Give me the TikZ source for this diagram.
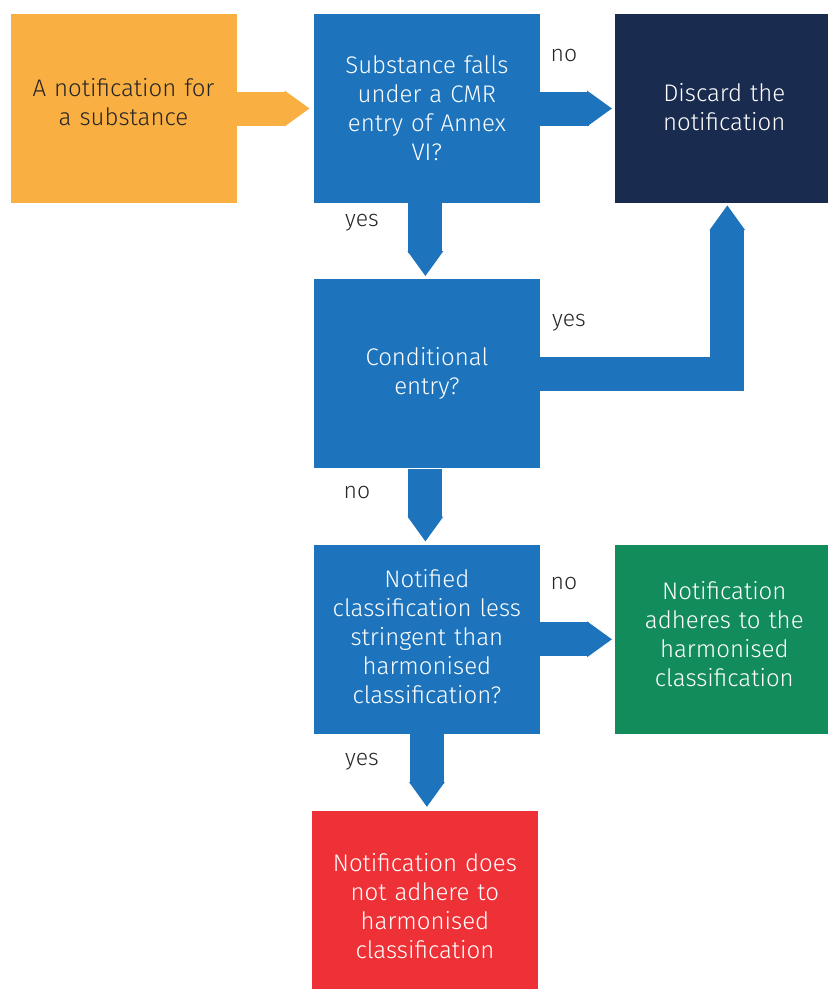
\documentclass[tikz,border=0pt]{standalone}
\usepackage{fontspec}
\setmainfont{Fira Sans Light}
\usetikzlibrary{positioning, arrows.meta}
\definecolor{startorange}{HTML}{F9AF41}
\definecolor{stepblue}{HTML}{1D74BC}
\definecolor{discardnavy}{HTML}{1A2B50}
\definecolor{okgreen}{HTML}{138C5B}
\definecolor{failred}{HTML}{EE3137}
\definecolor{labelgray}{HTML}{262626}

\begin{document}
\begin{tikzpicture}[
    x=1pt, y=-1pt,
    node distance=76pt,
    box/.style={
        rectangle,
        minimum width=226pt,
        minimum height=189pt,
        inner sep=0pt,
        text width=218pt,
        align=center,
        font=\fontsize{24}{29}\selectfont,
        text=white
    },
    lift/.style={execute at end node={\\[-#1]\mbox{}}},
    flow/.style={
        stepblue,
        line width=34pt,
        line join=miter,
        -{Triangle[width=34pt, length=25pt]}
    },
    answer/.style={
        text=labelgray,
        font=\fontsize{23}{26}\selectfont
    }
]

% --- CANVAS ---
\clip (0,0) rectangle (828,989);
\fill[white] (0,0) rectangle (828,989);

% --- BOXES ---
\node[box, fill=startorange, text=labelgray, lift=15pt] (notif) at (123.5,108.5)
    {A notification for\\a substance};
\node[box, fill=stepblue, right=77pt of notif] (cmr)
    {Substance falls\\under a CMR\\entry of Annex\\VI?};
\node[box, fill=discardnavy, right=75pt of cmr, minimum width=214pt, lift=25pt] (discard)
    {Discard the\\notification};
\node[box, fill=stepblue, below=of cmr, lift=23pt] (cond)
    {Conditional\\entry?};
\node[box, fill=stepblue, below=of cond, lift=24pt] (less)
    {Notified\\classification less\\stringent than\\harmonised\\classification?};
\node[box, fill=okgreen, right=75pt of less, minimum width=214pt, lift=19pt] (adhere)
    {Notification\\adheres to the\\harmonised\\classification};
\node[box, fill=failred, below=77pt of less, xshift=-2pt] (notadhere)
    {Notification does\\not adhere to\\harmonised\\classification};

% --- ARROWS ---
\draw[flow, startorange, shorten >=4pt] (notif) -- (cmr);
\draw[flow, shorten >=3pt] (cmr) -- (discard);
\draw[flow, shorten >=3pt] ([xshift=-1.5pt]cmr.south) -- ([xshift=-1.5pt]cond.north);
\draw[flow, shorten >=2pt] (cond.east) -| ([xshift=3pt]discard.south);
\draw[flow, shorten >=3pt] ([xshift=-1.5pt]cond.south) -- ([xshift=-1.5pt]less.north);
\draw[flow, shorten >=3pt] (less) -- (adhere);
\draw[flow, shorten >=4pt] (less.south) -- (less.south |- notadhere.north);

% --- ANSWERS ---
\node[answer] (no1) at (564,55) {no};
\node[answer] (yes1) at (362,223) {yes};
\node[answer] (yes2) at (569,323) {yes};
\node[answer] (no2) at (357,492) {no};
\node[answer] (no3) at (564,583) {no};
\node[answer] (yes3) at (362,762) {yes};

\end{tikzpicture}
\end{document}
